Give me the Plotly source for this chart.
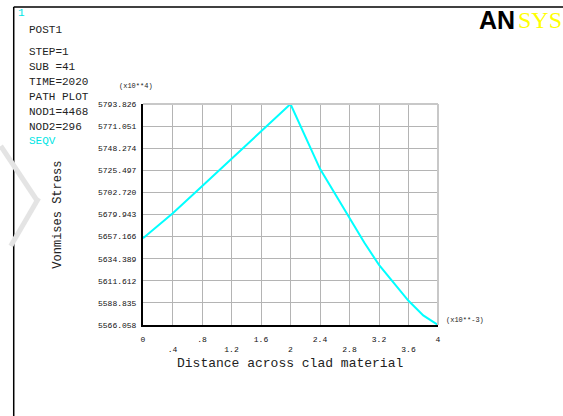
import plotly.graph_objects as go

# ---- data ----
distance = [0.0, 0.4, 0.8, 1.2, 1.6, 2.0, 2.4, 2.8, 3.0, 3.2, 3.4, 3.6, 3.8, 4.0]
seqv = [5655.5, 5681.0, 5709.0, 5737.0, 5765.0, 5793.826, 5727.0, 5676.0,
        5651.0, 5628.0, 5609.0, 5591.0, 5576.0, 5566.058]

y_ticks = [5566.058, 5588.835, 5611.612, 5634.389, 5657.166, 5679.943,
           5702.720, 5725.497, 5748.274, 5771.051, 5793.826]
x_ticks = [0, 0.4, 0.8, 1.2, 1.6, 2.0, 2.4, 2.8, 3.2, 3.6, 4.0]
x_tick_text = ["0", ".4", ".8", "1.2", "1.6", "2", "2.4", "2.8", "3.2", "3.6", "4"]

info_lines = ["STEP=1", "SUB =41", "TIME=2020", "PATH PLOT", "NOD1=4468", "NOD2=296"]

W, H = 563, 416
L, R, T, B = 142.5, 438.0, 104.0, 325.0

def px(x):
    return (x - L) / (R - L)

def py(y):
    return (B - y) / (B - T)

mono = "Liberation Mono"

fig = go.Figure()
fig.add_trace(go.Scatter(x=distance, y=seqv, mode="lines",
                         line=dict(color="#00ffff", width=2), hoverinfo="skip",
                         showlegend=False, cliponaxis=False))

# staggered x tick labels
xt = [t if i % 2 == 0 else "<br>" + t for i, t in enumerate(x_tick_text)]

fig.update_layout(
    width=W, height=H,
    margin=dict(l=L, r=W - R, t=T, b=H - B, pad=0),
    paper_bgcolor="white", plot_bgcolor="white",
    showlegend=False,
    xaxis=dict(range=[0, 4], tickmode="array", tickvals=x_ticks, ticktext=xt,
               showgrid=True, gridcolor="#b4b4b4", gridwidth=1,
               showline=True, linecolor="black", linewidth=2, mirror=False,
               ticks="", zeroline=False,
               tickfont=dict(family=mono, size=8, color="#111"),
               ticklabelstandoff=5),
    yaxis=dict(range=[y_ticks[0], y_ticks[-1]], tickmode="array", tickvals=y_ticks,
               ticktext=[f"{v:.3f}" for v in y_ticks],
               showgrid=True, gridcolor="#b4b4b4", gridwidth=1,
               showline=True, linecolor="black", linewidth=2,
               ticks="", zeroline=False,
               tickfont=dict(family=mono, size=8, color="#111"),
               ticklabelstandoff=3),
)

shapes = []
# top & right border of the grid (light grey)
shapes.append(dict(type="line", xref="paper", yref="paper", x0=0, x1=1, y0=1, y1=1,
                   line=dict(color="#c8c8c8", width=2)))
shapes.append(dict(type="line", xref="paper", yref="paper", x0=1, x1=1, y0=0, y1=1,
                   line=dict(color="#c8c8c8", width=2)))
# window frame
shapes.append(dict(type="line", xref="paper", yref="paper", x0=px(13), x1=px(W + 5),
                   y0=py(7), y1=py(7), line=dict(color="black", width=1.5)))
shapes.append(dict(type="line", xref="paper", yref="paper", x0=px(13), x1=px(13),
                   y0=py(7), y1=py(H + 5), line=dict(color="black", width=1.5)))
# faint watermark strokes
shapes.append(dict(type="line", xref="paper", yref="paper", x0=px(0), x1=px(36),
                   y0=py(146), y1=py(200), line=dict(color="#e4e4e4", width=5)))
shapes.append(dict(type="line", xref="paper", yref="paper", x0=px(38), x1=px(10),
                   y0=py(198), y1=py(246), line=dict(color="#e4e4e4", width=5)))
fig.update_layout(shapes=shapes)

ann = []
def text(x, y, s, size=11, color="#222", family=mono, xanchor="left", **kw):
    ann.append(dict(x=px(x), y=py(y), xref="paper", yref="paper", text=s,
                    showarrow=False, xanchor=xanchor, yanchor="middle",
                    font=dict(family=family, size=size, color=color), **kw))

text(15, 13, "1", size=11, color="#00e5e5")
text(26, 30, "POST1")
for i, s in enumerate(info_lines):
    text(26, 52 + i * 15, s)
text(26, 141, "SEQV", color="#00e5e5")

text(135, 86, "(x10**4)", size=7, xanchor="center")
text(444, 320, "(x10**-3)", size=7)
text(290, 363, "Distance across clad material", size=13, xanchor="center")
text(57, 215, "Vonmises Stress", size=12, xanchor="center", textangle=-90)

text(517, 20, "<b>AN</b>", size=25, color="black", family="Liberation Sans", xanchor="right")
text(516, 20, "SYS", size=24, color="#ffff00", family="Liberation Serif")

fig.update_layout(annotations=ann)
fig.write_html("out.html")
